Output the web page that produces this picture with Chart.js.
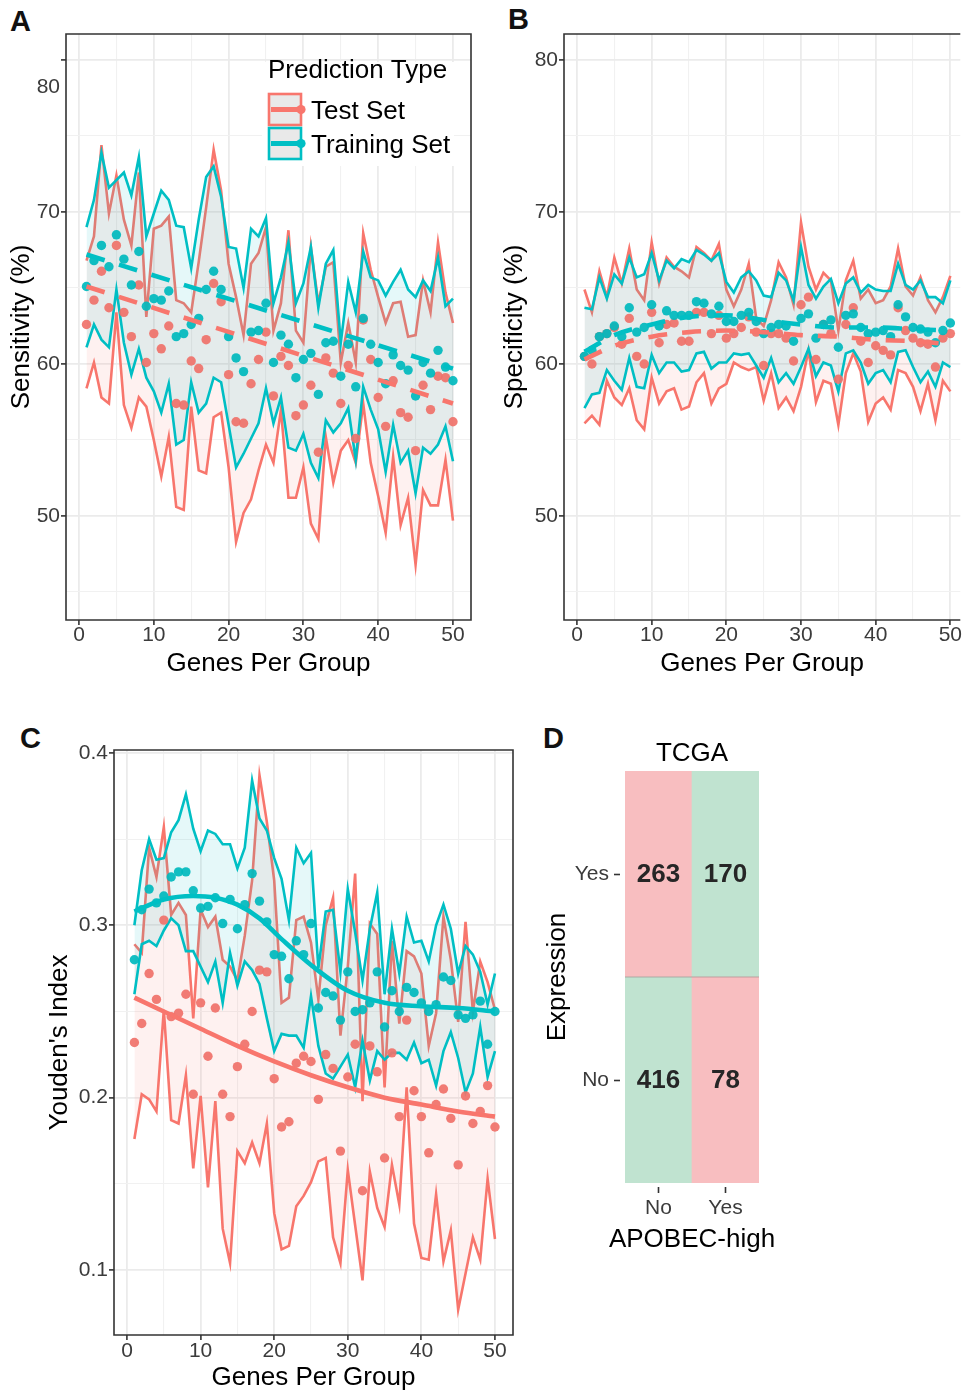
<!DOCTYPE html>
<html>
<head>
<meta charset="utf-8">
<script src="https://cdn.jsdelivr.net/npm/chart.js@4.4.1/dist/chart.umd.min.js"></script>
<style>
  body { margin: 0; background: #fff; width: 965px; height: 1391px; position: relative; overflow: hidden;
         font-family: 'Liberation Sans', Arial, sans-serif; }
  canvas { position: absolute; }
  .tag { position: absolute; font-weight: bold; font-size: 29px; line-height: 1; color: #111; }
</style>
</head>
<body>
<div class="tag" style="left:10px;top:7px">A</div>
<div class="tag" style="left:508px;top:5px">B</div>
<div class="tag" style="left:20px;top:724px">C</div>
<div class="tag" style="left:543px;top:724px">D</div>

<canvas id="chartA" width="480" height="690" style="left:0;top:0"></canvas>
<canvas id="chartB" width="467" height="690" style="left:498px;top:0"></canvas>
<canvas id="chartC" width="520" height="691" style="left:0;top:700px"></canvas>
<canvas id="chartD" width="260" height="530" style="left:540px;top:730px"></canvas>

<script>
// ---- data ----
const genes = [1,2,3,4,5,6,7,8,9,10,11,12,13,14,15,16,17,18,19,20,21,22,23,24,25,
               26,27,28,29,30,31,32,33,34,35,36,37,38,39,40,41,42,43,44,45,46,47,48,49,50];
const xTicks = [0,5,10,15,20,25,30,35,40,45,50];
const pctTicks = [45,50,55,60,65,70,75,80];
const youdenTicks = [0.1,0.15,0.2,0.25,0.3,0.35,0.4];

// A: sensitivity
const aTestHi = [66.8,68.4,74.4,69.9,72.4,69.5,67.8,72.6,63.1,68.9,69.1,69.7,64.2,64.0,63.4,66.7,70.3,74.1,71.4,66.6,64.4,61.9,66.6,67.3,69.0,
                 62.2,64.0,68.8,62.2,61.4,67.7,64.0,66.4,66.7,60.1,62.7,60.1,68.6,66.2,64.4,62.7,64.0,64.1,61.8,61.9,65.5,63.4,68.0,64.7,62.7];
const aTestLo = [58.4,60.1,57.8,57.4,63.4,57.3,55.8,57.8,57.2,55.0,52.6,55.2,50.6,50.4,57.2,53.0,52.8,56.5,56.8,53.2,48.3,50.2,51.1,53.0,54.7,
                 53.5,57.0,51.2,51.2,53.2,49.5,48.5,55.2,52.2,54.3,55.0,53.5,57.4,53.5,51.3,48.9,53.9,49.4,51.2,46.8,51.7,50.7,50.7,53.7,49.7];
const aTrainHi = [69.0,70.8,73.9,71.6,72.1,72.6,71.1,73.6,68.4,69.9,71.4,70.8,69.1,69.0,66.3,69.5,72.3,73.0,71.0,67.7,67.6,65.0,68.9,68.4,69.6,
                  64.0,65.7,68.0,64.0,65.3,67.7,63.7,66.6,67.5,61.4,65.4,63.4,67.4,65.7,65.5,64.5,65.4,66.2,64.9,64.4,65.5,64.8,67.0,63.8,64.3];
const aTrainLo = [61.1,62.6,61.6,61.1,64.9,61.4,59.3,61.0,59.1,58.2,56.8,58.7,54.7,55.0,58.8,56.8,57.4,59.1,58.8,56.0,53.2,54.1,55.1,56.1,58.4,
                  56.1,57.8,54.5,54.3,55.4,53.5,52.5,56.3,55.5,56.1,57.1,53.7,58.5,57.0,55.7,52.9,56.0,53.5,54.3,51.5,54.5,54.1,54.7,55.9,53.6];
const aTestPts = [62.6,64.2,66.1,63.7,67.8,63.4,61.8,65.2,60.1,62.0,61.0,62.5,57.4,57.3,60.2,59.7,61.6,65.3,64.1,59.3,56.2,56.1,58.7,60.3,62.1,
                  57.9,60.5,59.9,56.6,57.3,58.6,54.2,60.4,59.4,57.4,59.9,55.1,62.9,60.3,57.8,55.9,58.9,56.8,56.5,54.3,58.6,57.0,59.2,59.1,56.2];
const aTrainPts = [65.1,66.8,67.8,66.4,68.5,66.9,65.2,67.4,63.8,64.3,64.2,64.8,61.8,62.0,62.6,63.0,64.9,66.1,64.9,61.8,60.4,59.5,62.1,62.2,64.0,
                   60.1,61.9,61.3,59.1,60.3,60.7,58.0,61.4,61.5,59.2,61.3,58.5,63.0,61.3,60.1,58.7,60.6,59.9,59.6,57.9,60.1,59.4,60.9,59.8,58.9];
const aTrendX = [1, 50];
const aTestTrend = [65.1, 57.4];
const aTrainTrend = [67.2, 59.7];

// B: specificity
const bTestHi = [64.9,63.4,66.1,64.4,67.0,65.3,67.6,64.9,64.2,68.0,65.3,67.0,66.4,66.1,65.7,67.7,67.3,66.8,67.9,64.9,63.8,64.9,66.6,63.0,62.5,
                 64.2,66.7,65.7,63.9,69.3,66.4,64.9,66.0,65.5,62.2,65.5,66.8,64.3,64.9,64.0,64.2,65.1,67.6,65.1,64.5,65.7,64.2,63.4,64.4,65.8];
const bTestLo = [56.1,56.6,56.0,58.9,57.8,57.3,58.4,56.3,55.7,59.1,57.4,58.2,58.4,57.0,57.2,58.8,59.4,57.4,58.4,58.7,60.1,59.8,59.6,59.8,57.6,
                 59.4,57.1,57.8,56.9,58.5,60.9,57.5,58.9,58.7,56.0,59.4,60.7,59.5,56.2,57.4,57.8,57.0,59.6,59.4,58.5,56.9,58.7,56.3,58.9,58.2];
const bTrainHi = [63.7,63.6,65.7,64.3,65.9,65.3,67.0,65.7,65.9,67.3,65.5,66.8,66.3,66.9,66.7,67.5,67.2,66.8,67.3,65.4,64.7,65.7,66.1,65.5,64.5,
                  64.4,66.0,65.5,64.2,67.7,65.2,64.3,65.1,65.6,64.0,65.3,65.7,64.7,65.2,64.9,64.8,64.8,66.6,65.2,64.9,65.5,64.4,64.4,64.0,65.5];
const bTrainLo = [57.1,58.0,58.1,59.6,58.9,58.3,60.4,58.5,58.4,60.6,59.4,60.1,60.1,59.5,59.6,60.7,60.8,59.7,60.1,60.1,60.7,60.6,60.7,59.9,59.1,
                  60.4,58.8,59.4,58.7,59.8,61.0,59.2,60.1,59.9,58.2,60.7,60.9,60.1,58.7,59.4,59.6,58.8,60.8,60.9,59.8,58.8,59.5,58.5,60.1,59.8];
const bTestPts = [60.5,60.0,61.8,62.0,62.4,61.3,63.0,60.5,60.0,63.4,61.4,62.6,62.7,61.5,61.5,63.4,63.4,62.0,63.2,61.7,62.0,62.4,63.1,62.1,59.9,
                  62.0,62.0,61.7,60.2,63.9,64.4,60.3,62.6,62.0,59.0,62.6,63.7,61.5,60.1,61.2,60.9,60.6,63.7,62.2,61.7,61.4,61.3,59.8,61.7,62.0];
const bTrainPts = [60.5,60.9,61.8,62.0,62.5,61.8,63.7,62.1,62.4,63.9,62.5,63.5,63.2,63.2,63.2,64.1,64.0,63.3,63.8,62.8,62.8,63.2,63.4,62.8,62.0,
                   62.4,62.6,62.5,61.5,63.0,63.3,61.7,62.6,62.9,61.1,63.2,63.3,62.4,62.0,62.1,62.2,61.8,63.9,63.1,62.4,62.3,62.1,61.4,62.2,62.7];
const bTrendX = [1,5,10,15,20,25,30,35,40,45,50];
const bTestTrend = [60.3,61.2,61.8,62.1,62.2,62.1,61.9,61.8,61.6,61.5,61.3];
const bTrainTrend = [60.8,61.9,62.6,63.1,63.2,62.9,62.6,62.4,62.4,62.3,62.2];

// C: Youden's index
const cTestHi = [0.289,0.284,0.345,0.328,0.357,0.306,0.313,0.306,0.246,0.309,0.299,0.305,0.280,0.276,0.268,0.294,0.326,0.387,0.360,0.326,0.255,0.258,0.303,0.305,0.290,
                 0.257,0.300,0.316,0.236,0.276,0.330,0.198,0.301,0.295,0.206,0.291,0.243,0.285,0.282,0.272,0.230,0.249,0.305,0.280,0.244,0.302,0.250,0.279,0.267,0.251];
const cTestLo = [0.176,0.202,0.199,0.192,0.251,0.187,0.185,0.213,0.159,0.201,0.148,0.198,0.124,0.104,0.169,0.162,0.174,0.162,0.185,0.133,0.112,0.114,0.137,0.143,0.151,
                 0.163,0.165,0.119,0.104,0.158,0.126,0.094,0.157,0.136,0.125,0.161,0.138,0.206,0.127,0.107,0.106,0.144,0.105,0.123,0.077,0.098,0.119,0.106,0.153,0.118];
const cTrainHi = [0.300,0.332,0.350,0.338,0.339,0.354,0.361,0.376,0.356,0.343,0.355,0.353,0.347,0.347,0.333,0.345,0.384,0.362,0.355,0.339,0.327,0.303,0.345,0.336,0.342,
                  0.275,0.308,0.309,0.273,0.321,0.296,0.268,0.298,0.319,0.260,0.298,0.272,0.305,0.290,0.291,0.279,0.300,0.312,0.298,0.272,0.288,0.283,0.273,0.254,0.272];
const cTrainLo = [0.260,0.289,0.291,0.288,0.297,0.304,0.300,0.285,0.285,0.276,0.267,0.279,0.255,0.284,0.265,0.279,0.274,0.266,0.246,0.227,0.237,0.236,0.236,0.229,0.259,
                  0.230,0.214,0.211,0.218,0.225,0.206,0.233,0.210,0.227,0.222,0.226,0.226,0.222,0.232,0.220,0.222,0.207,0.227,0.238,0.223,0.203,0.214,0.241,0.212,0.227];
const cTestPts = [0.232,0.243,0.272,0.257,0.303,0.247,0.249,0.260,0.202,0.255,0.224,0.252,0.202,0.189,0.218,0.231,0.250,0.274,0.273,0.211,0.183,0.186,0.220,0.224,0.221,
                  0.199,0.225,0.217,0.169,0.212,0.231,0.146,0.230,0.215,0.165,0.226,0.189,0.245,0.204,0.189,0.168,0.196,0.205,0.188,0.161,0.201,0.185,0.192,0.207,0.183];
const cTrainPts = [0.280,0.309,0.321,0.313,0.317,0.328,0.331,0.331,0.320,0.310,0.311,0.316,0.301,0.315,0.298,0.312,0.330,0.314,0.302,0.283,0.282,0.269,0.291,0.283,0.301,
                   0.252,0.261,0.259,0.245,0.273,0.250,0.251,0.255,0.273,0.241,0.262,0.250,0.264,0.261,0.255,0.250,0.254,0.270,0.268,0.248,0.246,0.248,0.256,0.231,0.250];
const cTestTrendX = [1,5,10,15,20,25,30,35,40,45,50];
const cTestTrend = [0.258,0.250,0.240,0.230,0.221,0.213,0.206,0.200,0.196,0.192,0.189];
const cTrainTrendX = [1,5,9,12,15,18,21,25,30,35,40,45,50];
const cTrainTrend = [0.308,0.315,0.317,0.316,0.312,0.304,0.292,0.277,0.262,0.255,0.253,0.252,0.250];

// D: TCGA contingency table
const apobecCols = ['No', 'Yes'];
const expressionRows = ['No', 'Yes'];
const countsExprNo = [416, 78];
const countsExprYes = [263, 170];

// ---- styling ----
const RED = '#F8766D', TEAL = '#00BFC4';
const PINK = '#F8BEC0', GREEN = '#C0E3D0';
const FAMILY = "'Liberation Sans', Arial, sans-serif";
const TICK_TEXT = '#3b3b3b';
Chart.defaults.font.family = FAMILY;
Chart.defaults.color = TICK_TEXT;
Chart.defaults.animation = false;

const tickFont = { size: 21, lineHeight: 1 };
const titleFont = { size: 26, lineHeight: 1 };

function xy(ys, xs) {
    xs = xs || genes;
    return xs.map((x, i) => ({ x: x, y: ys[i] }));
}

function gridFor(isMajor) {
    return {
        color: c => (c.tick && isMajor(c.tick.value)) ? '#EBEBEB' : '#F1F1F1',
        lineWidth: c => (c.tick && isMajor(c.tick.value)) ? 1.8 : 1.1,
        tickColor: c => (c.tick && isMajor(c.tick.value)) ? '#333' : 'rgba(0,0,0,0)',
        tickWidth: 1.6,
        tickLength: 5,
        drawTicks: true
    };
}

// keep the label overhang from shrinking the panel
function noOverhang(sc) {
    sc.paddingLeft = 0; sc.paddingRight = 0; sc.paddingTop = 0; sc.paddingBottom = 0;
}

const tenMajor = v => Math.abs(v % 10) < 1e-9;
const tenthMajor = v => Math.abs(v * 10 - Math.round(v * 10)) < 1e-6;

// panel border drawn on top, like ggplot's theme_bw
const panelBorder = {
    id: 'panelBorder',
    afterDraw(chart, args, opts) {
        const a = chart.chartArea, ctx = chart.ctx;
        ctx.save();
        ctx.strokeStyle = '#333';
        ctx.lineWidth = 1.6;
        ctx.beginPath();
        ctx.moveTo(a.right, a.top);
        ctx.lineTo(a.left, a.top);
        ctx.lineTo(a.left, a.bottom);
        ctx.lineTo(a.right, a.bottom);
        if (!opts.openRight) ctx.closePath();
        ctx.stroke();
        ctx.restore();
    }
};

function bandDatasets(s) {
    const line = { pointRadius: 0, borderWidth: 2.6, tension: 0 };
    const dots = { showLine: false, pointRadius: 4.7, pointBorderWidth: 0, fill: false };
    const trend = { pointRadius: 0, borderWidth: 4.6, borderDash: s.dash, fill: false,
                    cubicInterpolationMode: s.smooth ? 'monotone' : 'default', borderCapStyle: 'butt' };
    return [
        Object.assign({ data: xy(s.testLo), borderColor: RED, fill: false, order: 10 }, line),
        Object.assign({ data: xy(s.testHi), borderColor: RED, fill: '-1', backgroundColor: 'rgba(248,118,109,0.1)', order: 9 }, line),
        Object.assign({ data: xy(s.trainLo), borderColor: TEAL, fill: false, order: 8 }, line),
        Object.assign({ data: xy(s.trainHi), borderColor: TEAL, fill: '-1', backgroundColor: 'rgba(0,191,196,0.1)', order: 7 }, line),
        Object.assign({ data: xy(s.testPts), pointBackgroundColor: 'rgba(240,114,106,0.92)', pointBorderColor: RED, order: 6 }, dots),
        Object.assign({ data: xy(s.trainPts), pointBackgroundColor: 'rgba(0,186,190,0.92)', pointBorderColor: TEAL, order: 5 }, dots),
        Object.assign({ data: xy(s.testTrend, s.testTrendX), borderColor: RED, order: 4 }, trend),
        Object.assign({ data: xy(s.trainTrend, s.trainTrendX), borderColor: TEAL, order: 3 }, trend)
    ];
}

function bandChart(id, s) {
    return new Chart(document.getElementById(id), {
        type: 'line',
        data: { datasets: bandDatasets(s) },
        options: {
            responsive: false,
            layout: { padding: s.padding },
            plugins: { legend: { display: false }, tooltip: { enabled: false },
                       panelBorder: { openRight: !!s.openRight } },
            scales: {
                x: {
                    type: 'linear', min: s.xMin, max: s.xMax,
                    afterBuildTicks: sc => { sc.ticks = xTicks.map(v => ({ value: v })); },
                    afterFit: sc => { sc.height = s.xHeight; noOverhang(sc); },
                    ticks: { font: tickFont, padding: s.xTickPad, maxRotation: 0, autoSkip: false,
                             callback: v => tenMajor(v) ? String(v) : '' },
                    grid: gridFor(tenMajor),
                    border: { display: false },
                    title: { display: true, text: 'Genes Per Group', color: '#000', font: titleFont,
                             padding: { top: 0, bottom: s.xTitlePad } }
                },
                y: {
                    type: 'linear', min: s.yMin, max: s.yMax,
                    afterBuildTicks: sc => { sc.ticks = s.yTicks.map(v => ({ value: v })); },
                    afterFit: sc => { sc.width = s.yWidth; noOverhang(sc); },
                    ticks: { font: tickFont, padding: s.yTickPad, autoSkip: false, callback: s.yLabel },
                    grid: gridFor(s.yMajor),
                    border: { display: false },
                    title: { display: true, text: s.yTitle, color: '#000', font: titleFont,
                             padding: { top: s.yTitlePad, bottom: 0 } }
                }
            }
        },
        plugins: [panelBorder].concat(s.extra || [])
    });
}

// legend for panel A, plus its offset "80" label
const legendA = {
    id: 'legendA',
    afterDraw(chart) {
        const ctx = chart.ctx;
        ctx.save();
        ctx.fillStyle = '#fff';
        ctx.fillRect(262, 62, 192, 104);
        ctx.fillStyle = '#000';
        ctx.font = '26px ' + FAMILY;
        ctx.textBaseline = 'middle';
        ctx.textAlign = 'left';
        ctx.fillText('Prediction Type', 268, 71);
        const keys = [['Test Set', RED, 94], ['Training Set', TEAL, 128]];
        keys.forEach(k => {
            const top = k[2];
            ctx.fillStyle = '#E9E9E9';
            ctx.fillRect(269, top, 32, 31);
            ctx.strokeStyle = k[1];
            ctx.lineWidth = 2.6;
            ctx.strokeRect(269, top, 32, 31);
            ctx.lineWidth = 5;
            ctx.beginPath();
            ctx.moveTo(271, top + 15.5);
            ctx.lineTo(299, top + 15.5);
            ctx.stroke();
            ctx.fillStyle = k[1];
            ctx.beginPath();
            ctx.arc(301, top + 15.5, 4.6, 0, Math.PI * 2);
            ctx.fill();
            ctx.fillStyle = '#000';
            ctx.fillText(k[0], 311, top + 18);
        });
        // the "80" label sits below its tick in the original
        const y = chart.scales.y;
        ctx.fillStyle = TICK_TEXT;
        ctx.font = '21px ' + FAMILY;
        ctx.textAlign = 'right';
        ctx.fillText('80', y.right - 6, y.getPixelForValue(80) + 27);
        ctx.restore();
    }
};

bandChart('chartA', {
    testHi: aTestHi, testLo: aTestLo, trainHi: aTrainHi, trainLo: aTrainLo,
    testPts: aTestPts, trainPts: aTrainPts,
    testTrend: aTestTrend, trainTrend: aTrainTrend, testTrendX: aTrendX, trainTrendX: aTrendX,
    dash: [19, 15], smooth: false,
    padding: { top: 34, right: 9, left: 0, bottom: 0 },
    xMin: -1.74, xMax: 52.41, yMin: 43.16, yMax: 81.71,
    yTicks: pctTicks, yMajor: tenMajor,
    yLabel: v => (tenMajor(v) && v !== 80) ? String(v) : '',
    xHeight: 70, yWidth: 66, xTickPad: 0, yTickPad: 1, xTitlePad: 13, yTitlePad: 9,
    yTitle: 'Sensitivity (%)', extra: [legendA]
});

// panel B is cut off by the right edge of the figure, so no right border
bandChart('chartB', {
    testHi: bTestHi, testLo: bTestLo, trainHi: bTrainHi, trainLo: bTrainLo,
    testPts: bTestPts, trainPts: bTrainPts,
    testTrend: bTestTrend, trainTrend: bTrainTrend, testTrendX: bTrendX, trainTrendX: bTrendX,
    dash: [19, 15], smooth: true, openRight: true,
    padding: { top: 34, right: 0, left: 0, bottom: 0 },
    xMin: -1.74, xMax: 51.33, yMin: 43.16, yMax: 81.71,
    yTicks: pctTicks, yMajor: tenMajor,
    yLabel: v => tenMajor(v) ? String(v) : '',
    xHeight: 70, yWidth: 66, xTickPad: 0, yTickPad: 1, xTitlePad: 13, yTitlePad: 4,
    yTitle: 'Specificity (%)'
});

bandChart('chartC', {
    testHi: cTestHi, testLo: cTestLo, trainHi: cTrainHi, trainLo: cTrainLo,
    testPts: cTestPts, trainPts: cTrainPts,
    testTrend: cTestTrend, trainTrend: cTrainTrend, testTrendX: cTestTrendX, trainTrendX: cTrainTrendX,
    dash: [], smooth: true,
    padding: { top: 50, right: 7, left: 0, bottom: 0 },
    xMin: -1.77, xMax: 52.45, yMin: 0.0623, yMax: 0.4017,
    yTicks: youdenTicks, yMajor: tenthMajor,
    yLabel: v => tenthMajor(v) ? v.toFixed(1) : '',
    xHeight: 56, yWidth: 114, xTickPad: 1, yTickPad: 1, xTitlePad: 0, yTitlePad: 47,
    yTitle: "Youden's Index"
});

// ---- D: tile plot ----
const countRows = [countsExprNo, countsExprYes];
const tileLabels = {
    id: 'tileLabels',
    afterDatasetsDraw(chart) {
        const ctx = chart.ctx;
        ctx.save();
        ctx.fillStyle = '#262626';
        ctx.font = 'bold 26px ' + FAMILY;
        ctx.textAlign = 'center';
        ctx.textBaseline = 'middle';
        chart.data.datasets.forEach((ds, di) => {
            chart.getDatasetMeta(di).data.forEach((bar, i) => {
                ctx.fillText(String(countRows[di][i]), bar.x, (bar.y + bar.base) / 2 + 1);
            });
        });
        const y = chart.scales.y, a = chart.chartArea;
        ctx.strokeStyle = 'rgba(150,130,130,0.55)';
        ctx.lineWidth = 1;
        ctx.beginPath();
        ctx.moveTo(a.left, y.getPixelForValue(1));
        ctx.lineTo(a.right, y.getPixelForValue(1));
        ctx.stroke();
        ctx.fillStyle = '#000';
        ctx.font = '26px ' + FAMILY;
        const cx = (a.left + a.right) / 2;
        ctx.fillText('TCGA', cx, a.top - 17);
        ctx.fillText('APOBEC-high', cx, a.bottom + 57);
        ctx.restore();
    }
};

new Chart(document.getElementById('chartD'), {
    type: 'bar',
    data: {
        labels: apobecCols,
        datasets: [
            { data: apobecCols.map(() => 1), backgroundColor: apobecCols.map(c => c === 'No' ? GREEN : PINK) },
            { data: apobecCols.map(() => 1), backgroundColor: apobecCols.map(c => c === 'Yes' ? GREEN : PINK) }
        ]
    },
    options: {
        responsive: false,
        layout: { padding: { top: 41, right: 41, left: 0, bottom: 0 } },
        datasets: { bar: { barPercentage: 1, categoryPercentage: 1, borderWidth: 0 } },
        plugins: { legend: { display: false }, tooltip: { enabled: false } },
        scales: {
            x: {
                stacked: true,
                afterFit: sc => { sc.height = 77; noOverhang(sc); },
                ticks: { font: tickFont, padding: 5 },
                grid: { offset: false, drawOnChartArea: false, tickLength: 10, tickColor: '#333', tickWidth: 1.6,
                        tickBorderDash: [0, 4, 6, 50] },
                border: { display: false },
                title: { display: false }
            },
            y: {
                stacked: true, min: 0, max: 2,
                afterBuildTicks: sc => { sc.ticks = [{ value: 0.5 }, { value: 1.5 }]; },
                afterFit: sc => { sc.width = 85; noOverhang(sc); },
                ticks: { font: tickFont, padding: 5, autoSkip: false, callback: v => expressionRows[Math.floor(v)] },
                grid: { drawOnChartArea: false, tickLength: 11, tickColor: '#333', tickWidth: 1.6,
                        tickBorderDash: [6, 50] },
                border: { display: false },
                title: { display: true, text: 'Expression', color: '#000', font: titleFont, padding: { top: 5, bottom: 0 } }
            }
        }
    },
    plugins: [tileLabels]
});
</script>
</body>
</html>
